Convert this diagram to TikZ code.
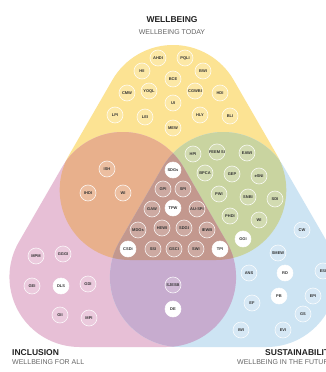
\documentclass[tikz,border=0pt]{standalone}
\usepackage{fontspec}
\setmainfont{Liberation Sans}
\usetikzlibrary{calc}
\definecolor{cY}{HTML}{FCE393}
\definecolor{cP}{HTML}{E7BFD6}
\definecolor{cB}{HTML}{CDE4F3}
\definecolor{cO}{HTML}{E8B08C}
\definecolor{cG}{HTML}{C9D4A0}
\definecolor{cU}{HTML}{C7ACCF}
\definecolor{cR}{HTML}{C3988E}
\definecolor{ttl}{HTML}{222222}
\definecolor{sub}{HTML}{666666}
\definecolor{btx}{HTML}{333333}
\newcommand\rtri[1]{($(#1)+(90:50pt)+(30:70pt)$) arc[start angle=30,end angle=150,radius=70pt] -- ($(#1)+(210:50pt)+(150:70pt)$) arc[start angle=150,end angle=270,radius=70pt] -- ($(#1)+(330:50pt)+(270:70pt)$) arc[start angle=270,end angle=390,radius=70pt] -- cycle}
\tikzset{
  badge/.style={circle, minimum size=16pt, inner sep=0pt, fill=white, fill opacity=0.18, text opacity=1, draw=white, draw opacity=0.85, line width=0.6pt, font=\bfseries\fontsize{4}{4.5}\selectfont, text=btx},
  wbadge/.style={badge, fill opacity=1},
  ttlbold/.style={font=\bfseries\fontsize{8.5}{10}\selectfont, text=ttl, inner sep=0pt},
  ttlsub/.style={font=\fontsize{7}{8}\selectfont, text=sub, inner sep=0pt}
}
\begin{document}
\begin{tikzpicture}[x=1pt,y=1pt]
\useasboundingbox (0,0) rectangle (326,-372);
\fill[white] (0,0) rectangle (326,-372);
\coordinate (GY) at (173,-165);
\coordinate (GP) at (122.77,-252);
\coordinate (GB) at (223.23,-252);
% base regions
\fill[cY] \rtri{GY};
\fill[cP] \rtri{GP};
\fill[cB] \rtri{GB};
% pairwise intersections
\begin{scope}\clip \rtri{GY}; \fill[cO] \rtri{GP};\end{scope}
\begin{scope}\clip \rtri{GY}; \fill[cG] \rtri{GB};\end{scope}
\begin{scope}\clip \rtri{GP}; \fill[cU] \rtri{GB};\end{scope}
\begin{scope}\clip \rtri{GY}; \clip \rtri{GP}; \fill[cR] \rtri{GB};\end{scope}
% titles
\node[ttlbold] (tw) at (172,-20) {WELLBEING};
\node[ttlsub] (tws) at (172,-32.5) {WELLBEING TODAY};
\node[ttlbold, anchor=west] (ti) at (12,-353) {INCLUSION};
\node[ttlsub, anchor=west] (tis) at (12,-362) {WELLBEING FOR ALL};
\node[ttlbold, anchor=west] (ts) at (265,-353) {SUSTAINABILITY};
\node[ttlsub, anchor=west] (tss) at (237,-362) {WELLBEING IN THE FUTURE};
% yellow
\node[badge] (ahdi) at (158,-58) {AHDI};
\node[badge] (pqli) at (185,-58) {PQLI};
\node[badge] (hii) at (142,-71) {HII};
\node[badge] (bwi) at (203,-71) {BWI};
\node[badge] (bce) at (173,-79) {BCE};
\node[badge] (cmw) at (127,-93) {CMW};
\node[badge] (yoql) at (149,-91) {YOQL};
\node[badge] (cgwbi) at (195,-91) {CGWBI};
\node[badge] (hdi) at (220,-93) {HDI};
\node[badge] (ui) at (173,-103) {UI};
\node[badge] (lpi) at (115,-115) {LPI};
\node[badge] (lei) at (145,-117) {LEI};
\node[badge] (hly) at (200,-115) {HLY};
\node[badge] (bli) at (230,-116) {BLI};
\node[badge] (mew) at (173,-128) {MEW};
% orange
\node[badge] (ish) at (107,-169) {ISH};
\node[badge] (ihdi) at (88,-193) {IHDI};
\node[badge] (wia) at (123,-193) {WI};
% green
\node[badge] (hpi) at (193,-154) {HPI};
\node[badge] (feem) at (217,-152) {FEEM SI};
\node[badge] (eawi) at (247,-153) {EAWI};
\node[badge] (bpca) at (205,-173) {BPCA};
\node[badge] (gep) at (232,-174) {GEP};
\node[badge] (esni) at (259,-176) {eSNI};
\node[badge] (pwi) at (219,-194) {PWI};
\node[badge] (snbi) at (248,-197) {SNBI};
\node[badge] (sdi) at (275,-199) {SDI};
\node[badge] (phdi) at (230,-216) {PHDI};
\node[badge] (wib) at (259,-220) {WI};
\node[wbadge] (ggi) at (243,-239) {GGI};
% brown
\node[wbadge] (sdgs) at (173,-170) {SDGs};
\node[badge] (gpi) at (163,-189) {GPI};
\node[badge] (spi) at (183,-189) {SPI};
\node[wbadge] (tpw) at (173,-208) {TPW};
\node[badge] (gaw) at (152,-209) {GAW};
\node[badge] (auspi) at (197,-209) {AU-SPI};
\node[badge] (mdgs) at (138,-230) {MDGs};
\node[badge] (hewi) at (162,-228) {HEWI};
\node[badge] (sdgi) at (184,-228) {SDGI};
\node[badge] (iewb) at (207,-230) {IEWB};
\node[wbadge] (csdi) at (128,-249) {CSDi};
\node[badge] (ssi) at (153,-249) {SSI};
\node[badge] (gsci) at (174,-249) {GSCI};
\node[badge] (swi) at (196,-249) {SWI};
\node[wbadge] (tpi) at (220,-249) {TPI};
% pink
\node[badge] (mpm) at (36,-256) {MPM};
\node[badge] (gggi) at (63,-254) {GGGI};
\node[badge] (gei) at (32,-286) {GEI};
\node[wbadge] (dls) at (61,-286) {DLS};
\node[badge] (gdi) at (88,-284) {GDI};
\node[badge] (gii) at (60,-315) {GII};
\node[badge] (mpi) at (89,-318) {MPI};
% purple
\node[badge] (sjesb) at (173,-285) {SJESB};
\node[wbadge] (de) at (173,-309) {DE};
% blue
\node[badge] (cw) at (302,-230) {CW};
\node[badge] (smew) at (278,-253) {SMEW};
\node[badge] (ans) at (249,-273) {ANS};
\node[wbadge] (rd) at (285,-273) {RD};
\node[badge] (esi) at (323,-271) {ESI};
\node[badge] (epi) at (313,-296) {EPI};
\node[wbadge] (pb) at (279,-296) {PB};
\node[badge] (ef) at (252,-303) {EF};
\node[badge] (gs) at (303,-314) {GS};
\node[badge] (iwi) at (241,-330) {IWI};
\node[badge] (evi) at (283,-330) {EVI};
\end{tikzpicture}
\end{document}
